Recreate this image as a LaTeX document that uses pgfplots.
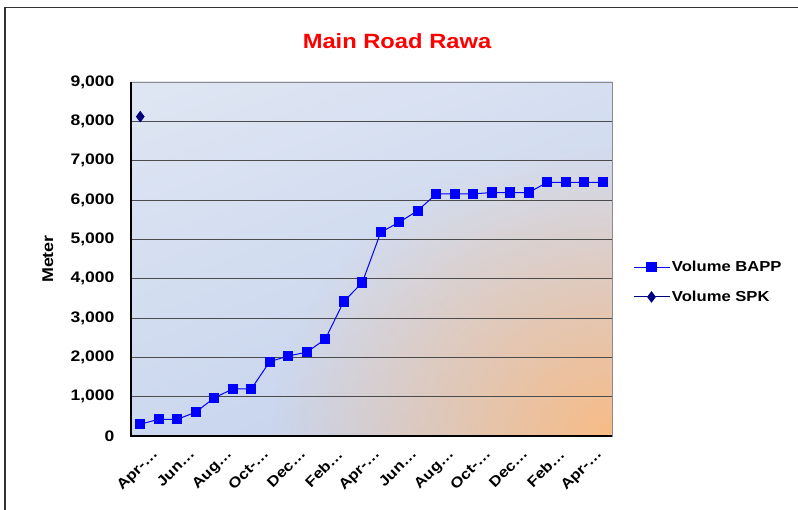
\documentclass[border=0pt]{standalone}
\usepackage{fontspec}
\setmainfont{Liberation Sans}[FakeStretch=1.15]
\usepackage{pgfplots}
\pgfplotsset{compat=1.18}
\usetikzlibrary{fadings,shadings}
\definecolor{bgUL}{HTML}{DFE6F3}
\definecolor{bgUR}{HTML}{D6DFF1}
\definecolor{bgLL}{HTML}{CCD8EF}
\definecolor{bgLR}{HTML}{C2D0EC}
\definecolor{bgOrange}{HTML}{F8BC86}
\definecolor{bappBlue}{HTML}{0000FF}
\definecolor{spkNavy}{HTML}{000080}
\tikzfading[name=orangefade, inner color=transparent!0, outer color=transparent!100]
\begin{document}
\begin{tikzpicture}
\begin{scope}[x=1bp,y=1bp]
\useasboundingbox (0,0) rectangle (798,510);
\fill[white] (0,0) rectangle (798,510);
\draw[line width=1.5bp, black!80] (5,0) -- (5,502.5) -- (798,502.5);
\begin{scope}
\clip (131,74) rectangle (612,428);
\shade[upper left=bgUL, upper right=bgUR, lower left=bgLL, lower right=bgLR] (131,74) rectangle (612,428);
\fill[bgOrange, path fading=orangefade] (612,74) ellipse [x radius=340, y radius=290];
\end{scope}
\end{scope}
\begin{axis}[
  width=481bp, height=354bp, scale only axis,
  at={(131bp,74bp)}, anchor=south west,
  xmin=-0.5, xmax=25.5, ymin=0, ymax=9000,
  ytick={0,1000,...,9000},
  xtick={0,2,...,24},
  xticklabels={Apr-…,Jun…,Aug…,Oct-…,Dec…,Feb…,Apr-…,Jun…,Aug…,Oct-…,Dec…,Feb…,Apr-…},
  ymajorgrids, grid style={draw=black!70, line width=0.8bp},
  major tick length=0pt,
  axis line style={draw=black!45, line width=0.8bp},
  yticklabel style={font=\bfseries\fontsize{15.3}{17}\selectfont, xshift=-13bp},
  xticklabel style={font=\bfseries\fontsize{14.5}{16}\selectfont, xshift=11bp, yshift=-7bp, rotate=45, anchor=north east},
  /pgf/number format/assume math mode=true,
  /pgf/number format/1000 sep={,},
  title={Main Road Rawa},
  title style={font=\bfseries\fontsize{20.7}{24}\selectfont, text=red, at={(rel axis cs:0.553,1.099)}, anchor=center},
  ylabel={Meter},
  ylabel style={font=\bfseries\fontsize{15.6}{17}\selectfont, at={(rel axis cs:-0.1726,0.5)}, anchor=center},
  legend style={draw=none, fill=none, at={(1.037,0.435)}, anchor=west, font=\bfseries\fontsize{14.5}{16}\selectfont, row sep=14bp},
  legend cell align=left,
  legend image code/.code={\draw[mark repeat=2,mark phase=2] plot coordinates {(0bp,0bp) (18bp,0bp) (36bp,0bp)};},
  clip=false,
  after end axis/.code={\draw[black, line width=1.2bp] (rel axis cs:0,1) -- (rel axis cs:0,0) -- (rel axis cs:1,0);},
]
\addplot[bappBlue, line width=1bp, mark=square*, mark size=4.6bp, mark options={fill=bappBlue, draw=bappBlue}] coordinates {
(0,300) (1,425) (2,425) (3,605) (4,970) (5,1195) (6,1195) (7,1890) (8,2035) (9,2130)
(10,2460) (11,3420) (12,3900) (13,5180) (14,5435) (15,5730) (16,6155) (17,6155) (18,6155) (19,6190)
(20,6190) (21,6190) (22,6450) (23,6450) (24,6450) (25,6450)};
\addlegendentry{Volume BAPP}
\addplot[spkNavy, line width=1bp, mark=diamond*, mark size=5bp, mark options={fill=spkNavy, draw=spkNavy}] coordinates {(0,8120)};
\addlegendentry{Volume SPK}
\end{axis}
\end{tikzpicture}
\end{document}
